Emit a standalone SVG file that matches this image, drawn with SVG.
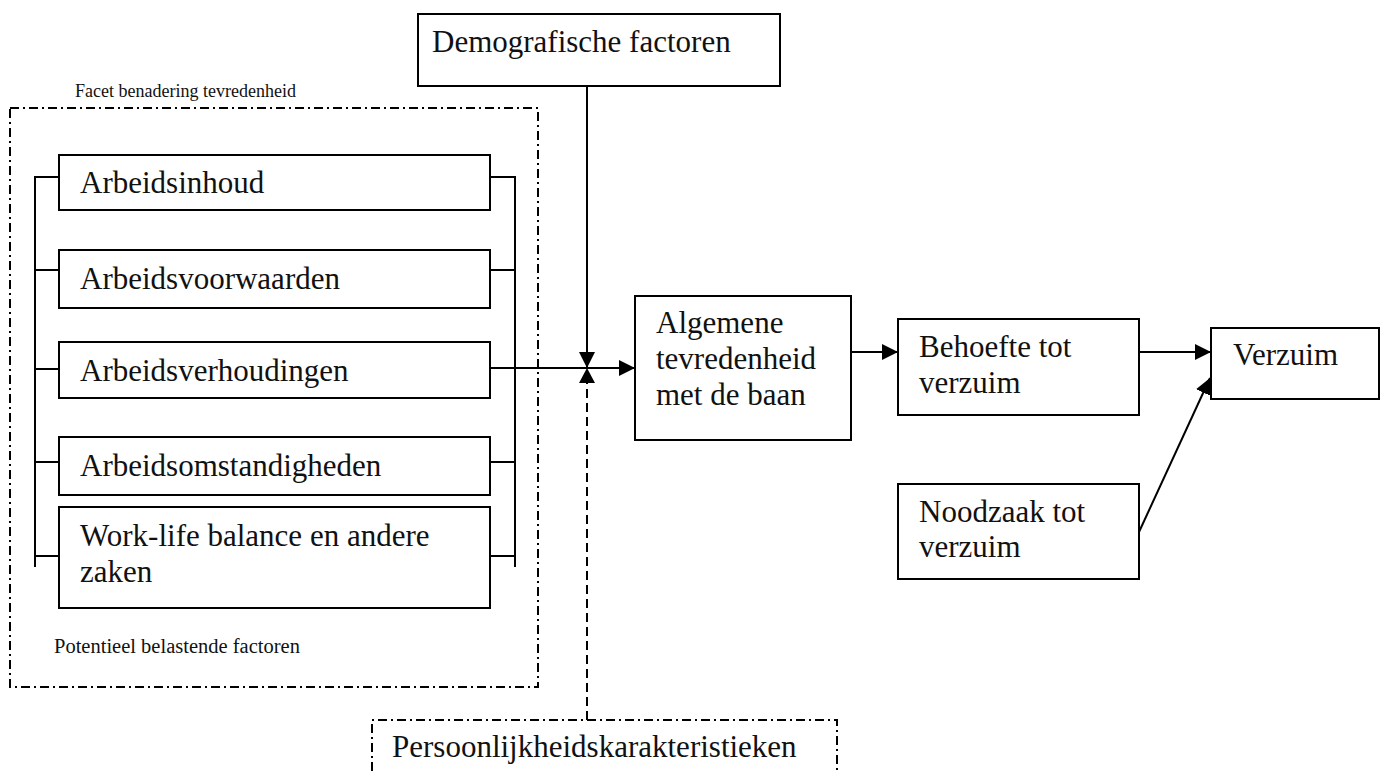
<svg xmlns="http://www.w3.org/2000/svg" width="1384" height="771" viewBox="0 0 1384 771">
<style>
.box{fill:#fff;stroke:#000;stroke-width:2}
.dd{fill:none;stroke:#000;stroke-width:2;stroke-dasharray:9 4 2 4}
.ln{fill:none;stroke:#000;stroke-width:2}
.dash{fill:none;stroke:#000;stroke-width:2;stroke-dasharray:9 5}
.t{font-family:"Liberation Serif","DejaVu Serif","Times New Roman",serif;font-size:31px;fill:#111}
.s{font-family:"Liberation Serif","DejaVu Serif","Times New Roman",serif;font-size:18px;fill:#111}
.p{font-family:"Liberation Serif","DejaVu Serif","Times New Roman",serif;font-size:20.5px;fill:#111}
</style>
<defs>
<marker id="ah" markerWidth="16" markerHeight="16" refX="16" refY="8" orient="auto" markerUnits="userSpaceOnUse">
<path d="M0,0 L16,8 L0,16 Z" fill="#000"/>
</marker>
</defs>
<rect width="1384" height="771" fill="#fff"/>
<g id="facet-group">
<rect class="dd" x="10" y="108" width="528" height="579"/>
<text class="s" x="75" y="97">Facet benadering tevredenheid</text>
<text class="p" x="54" y="653">Potentieel belastende factoren</text>
</g>
<g id="connectors">
<path class="ln" d="M35,567 V177 H59 M35,270 H59 M35,369 H59 M35,462 H59 M35,556 H59"/>
<path class="ln" d="M515,567 V177 H490 M515,270 H490 M515,462 H490 M515,556 H490"/>
<path class="ln" d="M490,368 H635" marker-end="url(#ah)"/>
<path class="ln" d="M587,86 V368" marker-end="url(#ah)"/>
<path class="dash" d="M587,720 V382"/>
<path d="M579,383 L587,368 L595,383 Z" fill="#000"/>
<path class="ln" d="M851,352 H898" marker-end="url(#ah)"/>
<path class="ln" d="M1139,352 H1211" marker-end="url(#ah)"/>
<path class="ln" d="M1139,532 L1210,378" marker-end="url(#ah)"/>
</g>
<g id="arbeidsinhoud"><rect class="box" x="59" y="155" width="431" height="55"/><text class="t" x="80" y="193">Arbeidsinhoud</text></g>
<g id="arbeidsvoorwaarden"><rect class="box" x="59" y="250" width="431" height="58"/><text class="t" x="80" y="289">Arbeidsvoorwaarden</text></g>
<g id="arbeidsverhoudingen"><rect class="box" x="59" y="342" width="431" height="56"/><text class="t" x="80" y="381">Arbeidsverhoudingen</text></g>
<g id="arbeidsomstandigheden"><rect class="box" x="59" y="437" width="431" height="58"/><text class="t" x="80" y="476">Arbeidsomstandigheden</text></g>
<g id="worklife"><rect class="box" x="59" y="507" width="431" height="101"/><text class="t" x="80" y="546">Work-life balance en andere</text><text class="t" x="80" y="582">zaken</text></g>
<g id="demografische"><rect class="box" x="418" y="14" width="362" height="72"/><text class="t" x="432" y="52">Demografische factoren</text></g>
<g id="persoonlijkheid"><path class="dd" d="M372,771 V720 H837 V771"/><text class="t" x="392" y="757">Persoonlijkheidskarakteristieken</text></g>
<g id="algemene"><rect class="box" x="635" y="296" width="216" height="144"/><text class="t" x="656" y="333">Algemene</text><text class="t" x="656" y="369">tevredenheid</text><text class="t" x="656" y="405">met de baan</text></g>
<g id="behoefte"><rect class="box" x="898" y="319" width="241" height="96"/><text class="t" x="919" y="357">Behoefte tot</text><text class="t" x="919" y="393">verzuim</text></g>
<g id="noodzaak"><rect class="box" x="898" y="484" width="241" height="95"/><text class="t" x="919" y="522">Noodzaak tot</text><text class="t" x="919" y="557">verzuim</text></g>
<g id="verzuim"><rect class="box" x="1211" y="328" width="168" height="71"/><text class="t" x="1233" y="365">Verzuim</text></g>
</svg>
